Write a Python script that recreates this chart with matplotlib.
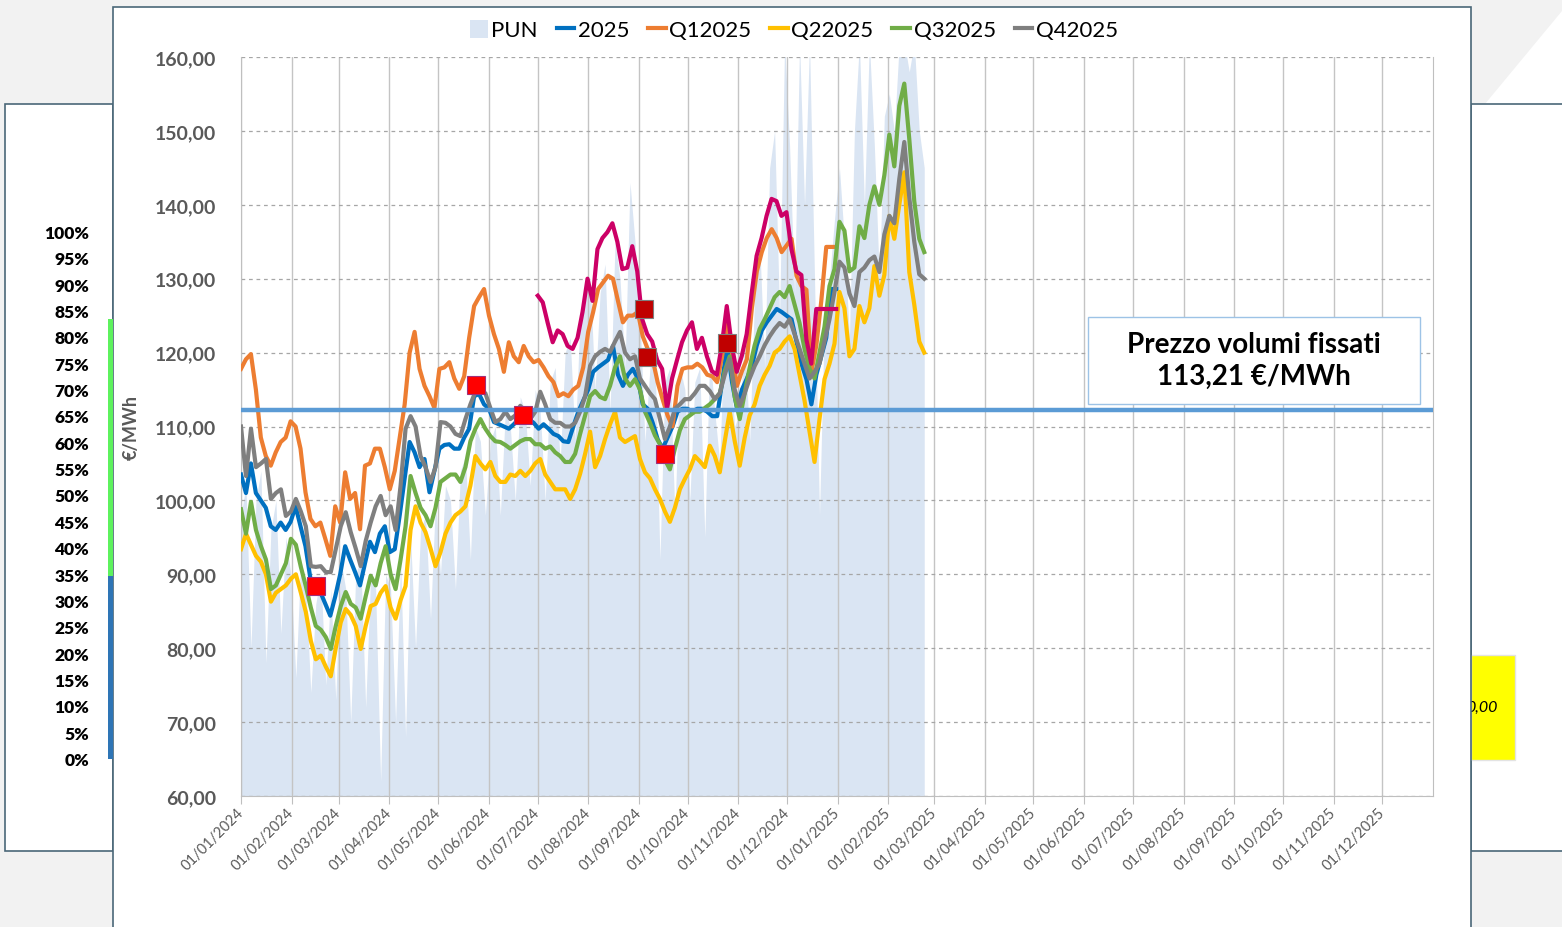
import matplotlib
matplotlib.use('Agg')
import matplotlib.pyplot as plt
import matplotlib.dates as mdates
from matplotlib.patches import Rectangle, Polygon
from matplotlib.lines import Line2D
import pandas as pd

plt.rcParams['font.family'] = ['Lato', 'DejaVu Sans']

W, H = 1562, 928

# ---- data (EUR/MWh) ----

# PUN daily price (sampled about every 3 days), Jan 2024 -> Feb 2025
pun_start, pun_end = '2024-01-01', '2025-02-23'
pun_vals = [98, 102, 80, 100, 104, 78, 96, 100, 82, 95,
            90, 76, 92, 88, 74, 86, 90, 75, 88, 73,
            92, 88, 70, 90, 92, 72, 90, 88, 62, 90,
            88, 70, 92, 68, 95, 80, 96, 98, 84, 100,
            90, 102, 100, 88, 104, 106, 92, 110, 108, 98,
            108, 110, 98, 112, 110, 100, 114, 112, 102, 115,
            112, 100, 116, 118, 105, 120, 122, 108, 125, 128,
            130, 115, 128, 132, 112, 135, 130, 118, 143, 135,
            125, 108, 118, 120, 92, 116, 118, 98, 118, 115,
            100, 116, 118, 95, 120, 112, 105, 125, 118, 110,
            112, 122, 108, 128, 135, 118, 145, 150, 125, 162,
            148, 128, 162, 140, 162, 130, 98, 125, 130, 138,
            145, 135, 122, 150, 162, 140, 162, 148, 130, 152,
            155, 150, 162, 162, 158, 162, 150, 145]

# Cal 2025 and Q1 2025 stop at the end of 2024
cal_start, cal_end = '2024-01-01', '2024-12-31'
cal2025_vals = [103.5, 101.0, 105.0, 101.0, 100.0, 99.0, 96.5, 96.0, 97.0, 96.0,
                97.1, 99.2, 96.5, 93.8, 89.4, 88.5, 87.6, 86.0, 84.4, 87.0,
                90.0, 93.8, 92.0, 90.3, 88.5, 91.5, 94.4, 93.0, 95.5, 96.5,
                93.0, 93.4, 98.0, 103.0, 107.9, 106.5, 104.5, 105.6, 101.1, 104.0,
                107.0, 107.5, 107.6, 107.0, 107.0, 108.5, 109.7, 114.1, 114.4, 113.0,
                112.4, 110.6, 110.3, 110.0, 109.7, 110.3, 111.0, 111.0, 111.0, 110.5,
                109.7, 110.3, 109.7, 109.0, 108.7, 108.0, 107.9, 110.0, 112.0, 113.5,
                115.0, 117.4, 118.0, 118.5, 119.0, 120.9, 117.0, 115.5, 117.0, 117.8,
                116.5, 113.0, 112.4, 110.5, 108.3, 107.0, 108.5, 110.0, 112.0, 112.4,
                112.4, 112.0, 112.4, 112.4, 112.0, 111.4, 111.4, 116.0, 120.9, 116.0,
                112.4, 115.0, 116.5, 118.2, 121.0, 123.0, 124.1, 125.0, 125.9, 125.5,
                125.0, 124.5, 121.5, 118.5, 116.4, 113.0, 117.0, 119.5, 122.0, 128.6,
                128.6]
q1_vals = [117.8, 119.1, 119.8, 115.0, 108.5, 106.0, 104.7, 106.5, 107.9, 108.5,
           110.7, 110.0, 107.0, 101.1, 97.5, 96.5, 97.0, 94.8, 92.5, 99.2,
           97.0, 103.8, 100.2, 101.0, 96.1, 104.7, 105.0, 107.0, 107.0, 104.5,
           101.5, 104.0, 108.5, 113.0, 120.0, 122.8, 117.8, 115.5, 114.1, 112.5,
           117.8, 118.0, 118.7, 116.5, 115.1, 116.8, 122.0, 126.3, 127.5, 128.6,
           125.0, 122.5, 120.5, 117.4, 121.4, 119.5, 118.7, 120.9, 119.5, 118.7,
           119.0, 118.0, 116.8, 116.0, 114.1, 114.5, 114.1, 115.0, 115.5, 118.0,
           122.8, 125.5, 128.6, 129.5, 130.4, 130.0, 127.0, 124.1, 125.0, 125.0,
           125.5, 122.2, 120.5, 119.1, 116.0, 113.7, 111.5, 110.0, 115.5, 117.8,
           118.0, 118.0, 118.5, 118.0, 117.0, 116.8, 116.0, 119.5, 124.1, 120.0,
           115.5, 117.5, 119.1, 126.0, 131.0, 133.6, 135.5, 136.7, 135.5, 133.6,
           134.5, 135.4, 130.4, 129.0, 128.5, 117.4, 121.0, 127.0, 134.3, 134.3,
           134.3]

# Q2..Q4 2025 run until late Feb 2025
q_start, q_end = '2024-01-01', '2025-02-23'
q2_vals = [93.4, 95.5, 94.0, 92.5, 91.7, 90.0, 86.3, 87.5, 88.0, 88.5,
           89.4, 90.0, 87.5, 84.9, 81.0, 78.5, 79.0, 77.5, 76.2, 80.0,
           83.5, 85.3, 84.5, 83.0, 79.9, 83.0, 85.7, 86.0, 87.5, 88.4,
           85.5, 84.0, 86.5, 88.4, 96.0, 99.2, 97.0, 95.7, 93.5, 91.1,
           93.0, 95.5, 97.0, 98.0, 98.5, 99.2, 102.0, 106.0, 105.0, 104.2,
           105.2, 103.3, 102.5, 102.5, 103.5, 103.3, 104.0, 103.3, 104.0, 105.0,
           105.6, 103.5, 102.5, 101.5, 101.5, 101.5, 100.2, 101.5, 103.6, 106.3,
           109.3, 104.5, 106.0, 108.3, 110.3, 112.0, 108.5, 107.9, 108.3, 108.7,
           105.6, 103.8, 103.0, 101.5, 100.2, 98.5, 97.1, 99.0, 101.5, 102.9,
           104.2, 106.0, 105.3, 104.5, 107.4, 106.0, 103.8, 108.0, 112.0, 108.0,
           104.7, 108.5, 111.5, 113.0, 115.5, 117.0, 118.2, 120.0, 120.5, 121.5,
           122.2, 120.5, 117.0, 113.5, 109.3, 105.2, 111.0, 116.4, 118.5, 121.2,
           128.2, 126.0, 119.5, 120.5, 126.3, 124.1, 126.0, 131.7, 127.7, 130.5,
           138.5, 135.4, 140.0, 144.4, 130.9, 126.5, 121.5, 120.0]
q3_vals = [98.8, 95.5, 99.8, 96.0, 93.8, 92.0, 88.0, 88.5, 90.0, 91.5,
           94.8, 94.0, 91.0, 88.4, 85.5, 83.0, 82.5, 81.5, 79.9, 83.0,
           85.7, 87.6, 86.0, 85.5, 84.0, 87.0, 89.8, 88.5, 91.5, 93.8,
           90.0, 88.0, 92.0, 96.5, 103.3, 101.0, 99.0, 98.0, 96.5, 99.0,
           102.5, 103.0, 103.5, 103.5, 102.5, 104.5, 108.0, 109.7, 111.0, 109.7,
           108.7, 108.0, 107.9, 107.5, 107.0, 107.5, 108.0, 108.3, 108.3, 107.6,
           107.6, 107.0, 107.3, 106.5, 106.0, 105.2, 105.2, 106.3, 109.0, 111.5,
           114.1, 114.8, 114.0, 113.7, 115.5, 118.0, 119.5, 116.5, 115.5, 116.4,
           115.0, 112.0, 110.5, 108.8, 107.6, 105.5, 104.2, 107.0, 109.5, 111.0,
           111.5, 112.0, 112.0, 112.5, 113.0, 113.7, 114.5, 117.5, 119.5, 114.0,
           111.0, 114.5, 118.0, 121.0, 123.2, 124.5, 126.0, 127.5, 128.2, 127.5,
           129.0, 126.5, 124.0, 120.5, 117.8, 116.5, 120.0, 123.5, 129.0, 131.3,
           137.7, 136.5, 131.0, 131.5, 137.1, 135.5, 140.0, 142.5, 140.0, 144.0,
           149.5, 145.2, 153.4, 156.4, 148.9, 140.5, 135.4, 133.6]
q4_vals = [110.0, 103.3, 109.7, 104.5, 105.0, 105.6, 100.2, 101.0, 101.5, 97.9,
           98.5, 100.2, 98.5, 96.5, 91.1, 91.0, 91.1, 90.3, 90.3, 93.4,
           96.5, 98.4, 95.7, 93.5, 91.1, 94.5, 97.0, 99.2, 100.6, 98.0,
           99.2, 96.0, 102.0, 109.7, 111.4, 110.0, 106.0, 104.5, 102.5, 104.5,
           110.6, 110.5, 110.0, 109.0, 108.7, 111.0, 113.0, 114.7, 114.7, 114.5,
           112.5, 110.6, 111.0, 112.0, 111.0, 111.5, 112.8, 112.0, 111.0, 112.0,
           114.7, 113.0, 111.0, 110.5, 110.5, 110.0, 110.0, 110.5, 112.0, 114.1,
           118.2, 119.5, 120.1, 120.5, 120.1, 121.5, 122.8, 120.0, 119.1, 119.5,
           116.5, 115.5, 114.5, 113.7, 111.0, 108.3, 110.0, 112.4, 113.0, 113.7,
           113.7, 114.5, 115.5, 115.5, 114.8, 113.7, 114.5, 117.0, 119.1, 115.0,
           112.8, 114.5, 116.5, 118.2, 119.5, 121.0, 122.2, 123.2, 124.0, 123.5,
           124.5, 122.5, 120.5, 118.5, 116.5, 117.4, 118.5, 121.5, 124.5, 128.2,
           132.3, 131.5, 128.0, 126.3, 130.9, 131.5, 132.5, 133.0, 130.9, 136.0,
           138.5, 137.5, 143.5, 148.5, 141.0, 135.0, 130.6, 130.0]

# unlabelled magenta series, Jul -> Dec 2024
extra_start, extra_end = '2024-07-01', '2024-12-31'
extra_vals = [127.7, 126.8, 124.0, 121.4, 123.0, 122.5, 120.9, 120.5, 122.0, 125.5,
              130.0, 127.0, 134.0, 135.5, 136.3, 137.5, 135.0, 131.3, 131.5, 134.4,
              131.0, 124.5, 122.5, 121.5, 119.0, 117.8, 112.4, 116.5, 119.0, 121.4,
              123.0, 124.1, 120.5, 122.0, 119.5, 117.5, 117.0, 121.0, 126.3, 121.0,
              117.4, 119.5, 122.5, 128.0, 133.1, 135.5, 138.5, 140.8, 140.5, 138.5,
              139.0, 134.0, 131.0, 130.5, 121.8, 118.5, 125.9, 125.9, 125.9, 125.9,
              125.9]

# purchase points
buy_dates = ['2024-02-16', '2024-05-24', '2024-06-22', '2024-09-17']
buy_vals = [88.4, 115.6, 111.5, 106.3]
buy2_dates = ['2024-09-04', '2024-09-06', '2024-10-25']
buy2_vals = [125.9, 119.4, 121.3]

fixed_level = 112.2
fixed_text = 'Prezzo volumi fissati\n113,21 €/MWh'

legend_labels = ['PUN', '2025', 'Q12025', 'Q22025', 'Q32025', 'Q42025']
pct_labels = [f'{p}%' for p in range(100, -5, -5)]
side_value = '0,00'


def fig_box(x0, y0, x1, y1):
    # pixel box (top-left origin) -> figure fraction rectangle
    return (x0 / W, 1 - y1 / H), (x1 - x0) / W, (y1 - y0) / H


def add_panel(fig, box, **kw):
    xy, w, h = fig_box(*box)
    r = Rectangle(xy, w, h, transform=fig.transFigure, **kw)
    fig.patches.append(r)
    return r


fig = plt.figure(figsize=(W / 100, H / 100), dpi=100, facecolor='#f2f2f2')

# background panels
edge = '#4a6778'
fig.patches.append(Polygon([(1485 / W, 1 - 105 / H), (1.0, 1 - 12 / H), (1.0, 1 - 105 / H)],
                           closed=True, transform=fig.transFigure, fc='white', ec='none', zorder=-3))
add_panel(fig, (5, 105, 113, 852), fc='white', ec=edge, lw=1.2, zorder=-2)
add_panel(fig, (1471, 105, 1580, 852), fc='white', ec=edge, lw=1.2, zorder=-2)
ybox = add_panel(fig, (1471, 656, 1515, 761), fc='#ffff00', ec='#e3e3e3', lw=1, zorder=-1.8)
t = fig.text(1498 / W, 1 - 708 / H, side_value, ha='right', va='center',
             style='italic', size=11.5, zorder=-1.7)
t.set_clip_path(ybox)
add_panel(fig, (113, 8, 1471, 945), fc='white', ec=edge, lw=1.2, zorder=-1.5)

# left panel: percentage scale and coloured bars
for i, lab in enumerate(pct_labels):
    fig.text(89 / W, 1 - (234 + i * 26.35) / H, lab, ha='right', va='center',
             weight='heavy', size=12.5, color='black')
add_panel(fig, (108, 320, 113, 577), fc='#5ef25e', ec='none', zorder=-1)
add_panel(fig, (108, 577, 113, 760), fc='#2e75b6', ec='none', zorder=-1)

# main plot
ax = fig.add_axes([241 / W, 1 - 797 / H, (1433 - 241) / W, (797 - 58) / H])
ax.set_facecolor('white')


def dates_for(start, end, vals):
    return pd.date_range(start, end, periods=len(vals))


ax.fill_between(dates_for(pun_start, pun_end, pun_vals), 60, pun_vals,
                color='#dae5f3', lw=0, zorder=1)

ax.plot(dates_for(cal_start, cal_end, cal2025_vals), cal2025_vals, color='#0070c0', lw=3, zorder=3)
ax.plot(dates_for(cal_start, cal_end, q1_vals), q1_vals, color='#ed7d31', lw=3, zorder=3)
ax.plot(dates_for(q_start, q_end, q2_vals), q2_vals, color='#ffc000', lw=3, zorder=3)
ax.plot(dates_for(q_start, q_end, q3_vals), q3_vals, color='#70ad47', lw=3, zorder=3)
ax.plot(dates_for(q_start, q_end, q4_vals), q4_vals, color='#7f7f7f', lw=3, zorder=3)
ax.plot(dates_for(extra_start, extra_end, extra_vals), extra_vals, color='#cc0066', lw=3, zorder=3)

ax.axhline(fixed_level, color='#5b9bd5', lw=3.2, zorder=4)

ax.plot(pd.to_datetime(buy_dates), buy_vals, 's', ms=13, mfc='#ff0000', mec='#a0307a',
        mew=0.8, zorder=5)
ax.plot(pd.to_datetime(buy2_dates), buy2_vals, 's', ms=13, mfc='#c00000', mec='#7f7f7f',
        mew=0.8, zorder=5)

# axes styling
ax.set_ylim(60, 160)
ax.set_yticks(range(60, 161, 10))
ax.set_yticklabels([f'{v:.2f}'.replace('.', ',') for v in range(60, 161, 10)])
ax.set_xlim(pd.Timestamp('2024-01-01'), pd.Timestamp('2026-01-01'))
ticks = pd.date_range('2024-01-01', '2025-12-01', freq='MS')
ax.set_xticks(ticks)
ax.xaxis.set_major_formatter(mdates.DateFormatter('%d/%m/%Y'))

ax.set_axisbelow('line')
ax.grid(axis='y', color='#a6a6a6', ls=(0, (3, 3)), lw=0.9)
ax.grid(axis='x', color='#c4c4c4', ls='-', lw=1)
for side in ['left', 'right', 'bottom']:
    ax.spines[side].set_color('#bfbfbf')
ax.spines['top'].set_visible(False)

ax.tick_params(axis='y', length=0, pad=18, labelsize=14, labelcolor='#595959')
ax.tick_params(axis='x', length=6, color='#bfbfbf', pad=4, labelsize=10.5, labelcolor='#595959')
for lab in ax.get_yticklabels():
    lab.set_fontweight('bold')
for lab in ax.get_xticklabels():
    lab.set_rotation(45)
    lab.set_ha('right')
    lab.set_va('center')
    lab.set_rotation_mode('anchor')

ax.set_ylabel('€/MWh', color='#595959', size=13, weight='bold')
ax.yaxis.set_label_coords((140 - 241) / (1433 - 241), 0.5)

# legend on top
handles = [Rectangle((0, 0), 1, 1, fc='#dae5f3', ec='none')]
for c in ['#0070c0', '#ed7d31', '#ffc000', '#70ad47', '#7f7f7f']:
    handles.append(Line2D([], [], color=c, lw=3))
fig.legend(handles, legend_labels, loc='center', bbox_to_anchor=(794 / W, 1 - 31 / H),
           ncol=6, frameon=False, fontsize=16, handlelength=0.8, handleheight=0.9,
           handletextpad=0.15, columnspacing=0.85)

# fixed price box
add_panel(fig, (1088, 318, 1420, 405), fc='white', ec='#9dc3e6', lw=1, zorder=5)
fig.text(1254 / W, 1 - 361 / H, fixed_text, ha='center', va='center', size=20,
         weight='bold', linespacing=1.3, zorder=6)

fig.savefig('out.png', dpi=100, facecolor=fig.get_facecolor())
